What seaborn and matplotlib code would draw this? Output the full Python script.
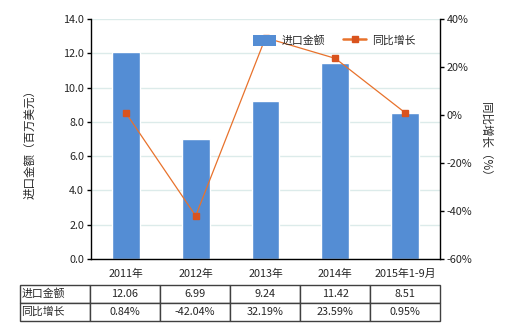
import matplotlib
matplotlib.use("Agg")
import matplotlib.pyplot as plt
from matplotlib.patches import Patch
from matplotlib.lines import Line2D
import seaborn as sns
import numpy as np
import pandas as pd

categories = ["2011年", "2012年", "2013年", "2014年", "2015年1-9月"]
import_values = [12.06, 6.99, 9.24, 11.42, 8.51]
growth_pct = [0.84, -42.04, 32.19, 23.59, 0.95]
value_labels = ["12.06", "6.99", "9.24", "11.42", "8.51"]
growth_labels = ["0.84%", "-42.04%", "32.19%", "23.59%", "0.95%"]
left_ticks = [0, 2, 4, 6, 8, 10, 12, 14]
right_ticks = [-60, -40, -20, 0, 20, 40]

sns.set_style("white")
plt.rcParams['font.family'] = ['Noto Sans CJK SC', 'DejaVu Sans']
plt.rcParams['axes.unicode_minus'] = False

bar_color = "#548DD4"
line_color = "#E8722C"
marker_color = "#D9531E"
fs = 7.8

fig = plt.figure(figsize=(5.2, 3.3), dpi=100)
ax = fig.add_axes([91/520, 1-259/330, 349/520, 240/330])

df = pd.DataFrame({"cat": categories, "val": import_values})
sns.barplot(data=df, x="cat", y="val", color=bar_color, width=0.4, ax=ax,
            saturation=1, zorder=2)
if ax.get_legend() is not None:
    ax.get_legend().remove()
ax.set_xlim(-0.5, len(categories)-0.5)
ax.set_ylim(0, 14)
ax.set_yticks(left_ticks)
ax.set_yticklabels([f"{t:.1f}" for t in left_ticks], fontsize=fs)
ax.set_xticks(range(len(categories)))
ax.set_xticklabels(categories, fontsize=fs)
ax.set_xlabel("")
ax.set_ylabel("进口金额（百万美元）", fontsize=fs + 0.5)
ax.yaxis.set_label_coords(-0.155, 0.49)
ax.yaxis.grid(True, color="#DCEBEA", linewidth=1, zorder=0)
ax.set_axisbelow(True)
for s in ["top", "right"]:
    ax.spines[s].set_visible(False)
for s in ["left", "bottom"]:
    ax.spines[s].set_color("black")
    ax.spines[s].set_linewidth(1)
ax.tick_params(axis="both", direction="out", length=3, width=1, color="black", pad=2)
ax.tick_params(axis="x", pad=4)

ax2 = ax.twinx()
ax2.plot(np.arange(len(categories)), growth_pct, color=line_color, linewidth=0.9,
         marker="s", markersize=4, markerfacecolor=marker_color,
         markeredgecolor=marker_color, zorder=3)
ax2.set_ylim(-60, 40)
ax2.set_yticks(right_ticks)
ax2.set_yticklabels([f"{t}%" for t in right_ticks], fontsize=fs)
ax2.set_ylabel("同比增长（%）", fontsize=fs + 0.5, rotation=270)
ax2.yaxis.set_label_coords(1.15, 0.49)
for s in ["top", "left", "bottom"]:
    ax2.spines[s].set_visible(False)
ax2.spines["right"].set_color("black")
ax2.spines["right"].set_linewidth(1)
ax2.tick_params(axis="y", direction="out", length=3, width=1, color="black", pad=2)

handles = [Patch(facecolor=bar_color, edgecolor="none"),
           Line2D([0], [0], color=line_color, linewidth=1.8, marker="s",
                  markersize=4, markerfacecolor=marker_color,
                  markeredgecolor=marker_color)]
leg = ax2.legend(handles, ["进口金额", "同比增长"], ncol=2, frameon=False, fontsize=fs,
                 loc="upper left", bbox_to_anchor=(0.435, 0.975),
                 handlelength=2.2, handleheight=1.2, columnspacing=1.6, handletextpad=0.5)
leg.set_zorder(10)

cell_text = [["进口金额"] + value_labels, ["同比增长"] + growth_labels]
x0 = (20-91)/349
tbl = ax.table(cellText=cell_text, cellLoc="center",
               colWidths=[70/349] + [70/349]*5,
               bbox=[x0, -0.258, 1 - x0, 0.15])
tbl.auto_set_font_size(False)
tbl.set_fontsize(fs)
for (r, c), cell in tbl.get_celld().items():
    cell.set_edgecolor("#404040")
    cell.set_linewidth(1)
    if c == 0:
        cell.set_text_props(ha="left")
        cell.PAD = 0.02

fig.savefig("out.png", dpi=100)
